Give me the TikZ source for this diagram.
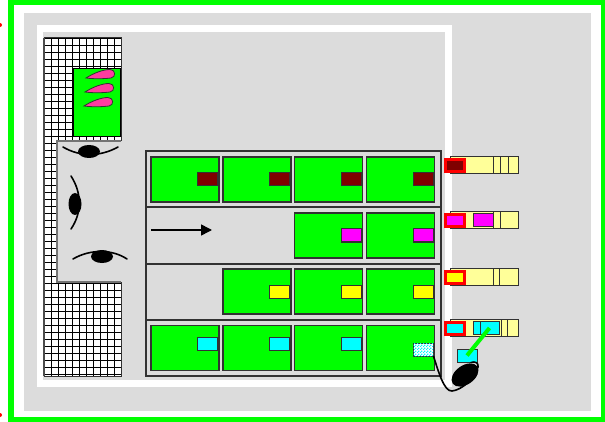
\documentclass[tikz,border=0pt]{standalone}
\usetikzlibrary{patterns,arrows.meta,shapes.geometric}
\definecolor{lime}{RGB}{0,255,0}
\definecolor{panel}{RGB}{220,220,220}
\definecolor{dred}{RGB}{128,0,0}
\definecolor{lyel}{RGB}{255,255,153}
\definecolor{leafpink}{RGB}{255,60,160}
\definecolor{edge}{RGB}{50,50,50}
\definecolor{cy}{RGB}{0,255,255}
\definecolor{mag}{RGB}{255,0,255}
\definecolor{yel}{RGB}{255,255,0}
\pgfdeclarepatternformonly{finecheck}{\pgfpointorigin}{\pgfqpoint{3pt}{3pt}}{\pgfqpoint{3pt}{3pt}}{%
  \pgfpathrectangle{\pgfpointorigin}{\pgfqpoint{1.5pt}{1.5pt}}%
  \pgfpathrectangle{\pgfqpoint{1.5pt}{1.5pt}}{\pgfqpoint{1.5pt}{1.5pt}}%
  \pgfusepath{fill}}
\tikzset{
  cell/.style={draw=edge, fill=lime, line width=1.2pt, minimum width=68pt, minimum height=45pt, inner sep=0pt},
  tag/.style={draw=edge, line width=1pt, minimum width=20pt, minimum height=13pt, inner sep=0pt},
  bar/.style={draw=edge, fill=lyel, line width=1pt, minimum width=68pt, minimum height=17pt, inner sep=0pt},
  redbox/.style={draw=red, line width=3pt, minimum width=19pt, minimum height=12pt, inner sep=0pt},
  eyelid/.style={line width=1.6pt, line cap=round},
  leaf/.pic={\filldraw[fill=leafpink, draw=black!80, line width=0.8pt]
     (0,0) .. controls (8,-5) and (17,-8.5) .. (24,-8.5)
     .. controls (30,-8.5) and (30,-0.5) .. (25,0)
     .. controls (17,1) and (7,1) .. (0,0) -- cycle;}
}
\begin{document}
\begin{tikzpicture}[x=1pt,y=-1pt]
\useasboundingbox (0,0) rectangle (605,422);
\fill[white] (0,0) rectangle (605,422);
% frames
\fill[lime] (8,-5) rectangle (610,422);
\fill[white] (14,5) rectangle (601,417);
\fill[panel] (24,13) rectangle (591,411);
\fill[white] (37,25) rectangle (452,387);
\fill[panel] (43,32) rectangle (445,380);
\fill[red] (0,25) circle (2);
\fill[red] (0,415) circle (2);

% hatched wall around the entrance
\begin{scope}
  \path[clip] (44,38) -- (121,38) -- (121,141) -- (57,141) -- (57,282) -- (121,282) -- (121,376) -- (44,376) -- cycle;
  \fill[white] (44,38) rectangle (121,376);
  \foreach \i in {0,...,11} \draw[line width=0.9pt] (44+7*\i,38) -- (44+7*\i,376);
  \foreach \j in {0,...,48} \draw[line width=0.9pt] (44,38+7*\j) -- (121,38+7*\j);
\end{scope}
\draw[edge, line width=1pt] (44,38) -- (121,38) -- (121,141);
\draw[edge, line width=1pt] (121,282) -- (121,376) -- (44,376);
\draw[black!70, line width=2pt] (44,38) -- (44,376);
\draw[black!55, line width=1.5pt] (121,141) -- (57,141) -- (57,282) -- (121,282);

% green stand with leaves
\node[draw=black, fill=lime, line width=1pt, minimum width=47pt, minimum height=68pt, inner sep=0pt] (stand) at (96.5,103) {};
\pic at (86,78) {leaf};
\pic at (85,92) {leaf};
\pic at (84,106) {leaf};

% eyes
\fill (89,151.5) ellipse [x radius=11, y radius=6.5];
\draw[eyelid] (63,147) .. controls (80,157) and (100,157) .. (118,147);
\fill (75,204) ellipse [x radius=6.5, y radius=11];
\draw[eyelid] (71,176) .. controls (82,193) and (82,213) .. (71,229);
\fill (102,256.5) ellipse [x radius=11, y radius=6.5];
\draw[eyelid] (73,259) .. controls (90,249) and (112,249) .. (127,259);

% shelf block
\draw[edge, line width=1.5pt] (146,151) rectangle (441,376);
\foreach \y in {207,264,320} \draw[edge, line width=1.2pt] (146,\y) -- (441,\y);

\node[cell] (c11) at (185,179.5) {};
\node[cell] (c12) at (257,179.5) {};
\node[cell] (c13) at (328.5,179.5) {};
\node[cell] (c14) at (400.5,179.5) {};
\node[cell] (c23) at (328.5,235.5) {};
\node[cell] (c24) at (400.5,235.5) {};
\node[cell] (c32) at (257,291.5) {};
\node[cell] (c33) at (328.5,291.5) {};
\node[cell] (c34) at (400.5,291.5) {};
\node[cell] (c41) at (185,348) {};
\node[cell] (c42) at (257,348) {};
\node[cell] (c43) at (328.5,348) {};
\node[cell] (c44) at (400.5,348) {};

\foreach \c in {c11,c12,c13,c14} \node[tag, fill=dred] at ([xshift=-12pt]\c.east) {};
\foreach \c in {c23,c24} \node[tag, fill=mag] at ([xshift=-12pt]\c.east) {};
\foreach \c in {c32,c33,c34} \node[tag, fill=yel] at ([xshift=-12pt]\c.east) {};
\foreach \c in {c41,c42,c43} \node[tag, fill=cy] at ([xshift=-12pt,yshift=4.5pt]\c.east) {};
\node[tag, fill=white, postaction={pattern=finecheck, pattern color=cy}] (chk) at ([xshift=-12pt,yshift=-1.5pt]c44.east) {};

\coordinate (flowA) at (151,230);
\coordinate (flowB) at (212,230);
\draw[line width=1.5pt, -{Triangle[length=11pt,width=11pt]}] (flowA) -- (flowB);

% bars on the right
\node[bar] (b1) at (484,165.5) {};
\node[bar] (b2) at (484,220.5) {};
\node[bar] (b3) at (484,277) {};
\node[bar] (b4) at (484,328) {};
\foreach \x in {493,500,508} \draw[edge, line width=1pt] (\x,157) -- (\x,174);
\foreach \x in {493,500} \draw[edge, line width=1pt] (\x,212) -- (\x,229);
\foreach \x in {493,499} \draw[edge, line width=1pt] (\x,268.5) -- (\x,285.5);
\foreach \x in {501,507} \draw[edge, line width=1pt] (\x,319.5) -- (\x,336.5);

\node[redbox, fill=dred] (r1) at (455,165.5) {};
\node[redbox, fill=mag] (r2) at (455,220.5) {};
\node[redbox, fill=yel] (r3) at (455,277) {};
\node[redbox, fill=cy] (r4) at (455,328) {};

\node[tag, fill=mag] (m2) at (483,220.5) {};
\node[tag, fill=cy, minimum width=21pt] (cyA) at (483.5,328) {};
\node[tag, fill=cy, minimum width=19pt] (cyB) at (489.5,328) {};

% reader and mouse
\node[tag, fill=cy] (cyS) at (467,355.5) {};
\draw[lime, line width=4pt] (cyB.center) -- (cyS.center);
\node[ellipse, fill=black, minimum width=30pt, minimum height=19pt, inner sep=0pt, rotate=35] (mouse) at (465,375) {};
\draw[line width=1.6pt, line cap=round] (chk.south east) .. controls (438,370) and (444,392) .. (452,391)
   .. controls (462,390) and (475,378) .. (478,367)
   .. controls (479,363) and (475,361) .. ([xshift=4pt]cyS.south);
\end{tikzpicture}
\end{document}
